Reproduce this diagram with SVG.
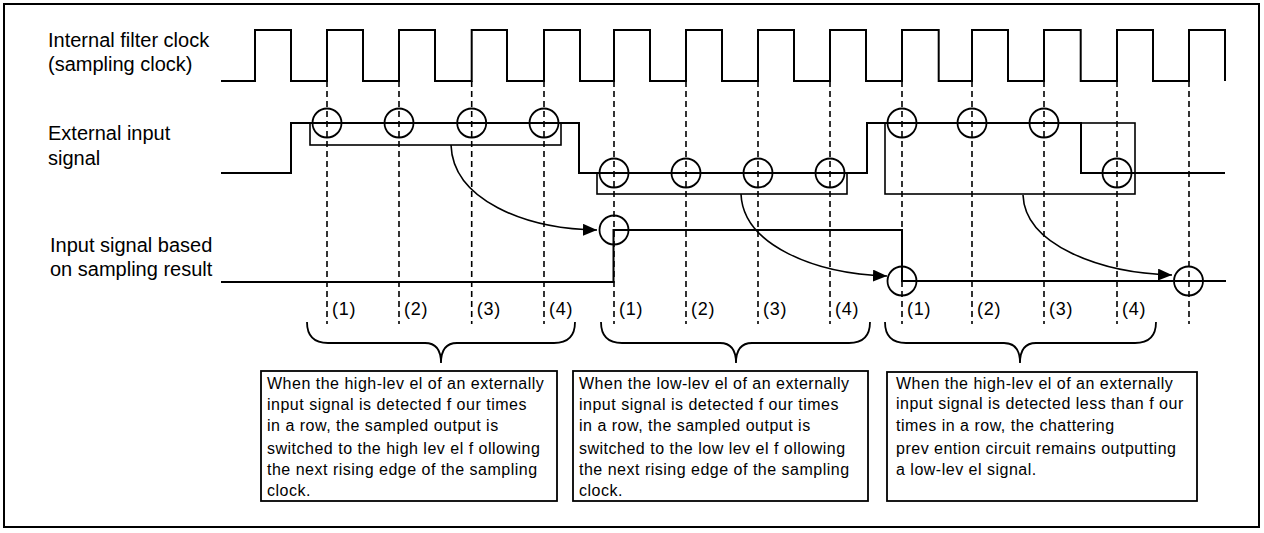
<svg xmlns="http://www.w3.org/2000/svg" width="1264" height="533" viewBox="0 0 1264 533">
<defs>
<marker id="arr" markerUnits="userSpaceOnUse" markerWidth="16" markerHeight="14" refX="14" refY="6" orient="auto">
<path d="M0,0 L14,6 L0,12 Z" fill="#000"/>
</marker>
<style>
.wave{fill:none;stroke:#000;stroke-width:2}
.dash{fill:none;stroke:#000;stroke-width:1.6;stroke-dasharray:6,4}
.circ{fill:none;stroke:#000;stroke-width:1.8}
.box{fill:none;stroke:#000;stroke-width:1.6}
.tbox{fill:#fff;stroke:#000;stroke-width:1.8}
.conn{fill:none;stroke:#000;stroke-width:1.6}
.brace{fill:none;stroke:#000;stroke-width:1.8}
.lbl{font-family:"Liberation Sans",Arial,sans-serif;font-size:20px;fill:#000}
.num{font-family:"Liberation Sans",Arial,sans-serif;font-size:18px;fill:#000;letter-spacing:0.8px}
.txt{font-family:"Liberation Sans",Arial,sans-serif;font-size:16px;fill:#000;letter-spacing:0.5px}
</style>
</defs>
<rect x="4" y="4" width="1255" height="523" fill="#fff" stroke="#000" stroke-width="2"/>

<g id="labels">
<text class="lbl" x="48" y="47">Internal filter clock</text>
<text class="lbl" x="48" y="71">(sampling clock)</text>
<text class="lbl" x="48" y="140">External input</text>
<text class="lbl" x="48" y="165">signal</text>
<text class="lbl" x="50" y="252">Input signal based</text>
<text class="lbl" x="50" y="276">on sampling result</text>
</g>

<g id="clock">
<path class="wave" d="M221,81 H255 V30 H291 V81 H327 V30 H363 V81 H399 V30 H435 V81 H471.7 V30 H507 V81 H544 V30 H580 V81 H614 V30 H650 V81 H686 V30 H722 V81 H758 V30 H794 V81 H830 V30 H866 V81 H902 V30 H938.7 V81 H972 V30 H1008 V81 H1044 V30 H1080.7 V81 H1117 V30 H1153 V81 H1189 V30 H1225 V81"/>
</g>

<g id="input-signal">
<path class="wave" d="M221,173 H291 V123 H579 V173 H867 V123 H1081 V173 H1225"/>
</g>

<g id="output-signal">
<path class="wave" d="M221,282 H613.5 V230 H902 V281 H1226"/>
</g>

<g id="dashes">
<path class="dash" d="M327,81 V324 M399,81 V324 M471.7,81 V324 M544,81 V324 M614,81 V324 M686,81 V324 M758,81 V324 M830,81 V324 M902,81 V324 M972,81 V324 M1044,81 V324 M1117,81 V324 M1189,81 V324"/>
</g>

<g id="sample-circles">
<circle class="circ" cx="327" cy="123" r="14.5"/>
<circle class="circ" cx="399" cy="123" r="14.5"/>
<circle class="circ" cx="471.7" cy="123" r="14.5"/>
<circle class="circ" cx="544" cy="123" r="14.5"/>
<circle class="circ" cx="614" cy="173" r="14.5"/>
<circle class="circ" cx="686" cy="173" r="14.5"/>
<circle class="circ" cx="758" cy="173" r="14.5"/>
<circle class="circ" cx="830" cy="173" r="14.5"/>
<circle class="circ" cx="902" cy="123" r="14.5"/>
<circle class="circ" cx="972" cy="123" r="14.5"/>
<circle class="circ" cx="1044" cy="123" r="14.5"/>
<circle class="circ" cx="1117" cy="173" r="14.5"/>
<circle class="circ" cx="614" cy="230" r="14.5"/>
<circle class="circ" cx="902" cy="281" r="14.5"/>
<circle class="circ" cx="1188.5" cy="281" r="14.5"/>
</g>

<g id="groups">
<rect class="box" x="310" y="123" width="251" height="22"/>
<rect class="box" x="597" y="173" width="250" height="21"/>
<rect class="box" x="885" y="123" width="250" height="71"/>
</g>

<g id="connectors">
<path class="conn" d="M451,145 C453,200 525,229 597,230" marker-end="url(#arr)"/>
<path class="conn" d="M741,194 C743,245 815,274 887,276" marker-end="url(#arr)"/>
<path class="conn" d="M1023,195 C1025,245 1100,273 1172,275" marker-end="url(#arr)"/>
</g>

<g id="numbers">
<text class="num" x="332" y="315">(1)</text>
<text class="num" x="404" y="315">(2)</text>
<text class="num" x="476.7" y="315">(3)</text>
<text class="num" x="549" y="315">(4)</text>
<text class="num" x="619" y="315">(1)</text>
<text class="num" x="691" y="315">(2)</text>
<text class="num" x="763" y="315">(3)</text>
<text class="num" x="835" y="315">(4)</text>
<text class="num" x="907" y="315">(1)</text>
<text class="num" x="977" y="315">(2)</text>
<text class="num" x="1049" y="315">(3)</text>
<text class="num" x="1122" y="315">(4)</text>
</g>

<g id="braces">
<path class="brace" d="M307,322 Q307,343 328,343 L425,343 Q441,343 441,363 Q441,343 457,343 L554,343 Q575,343 575,322"/>
<path class="brace" d="M601,322 Q601,343 622,343 L720,343 Q736,343 736,363 Q736,343 752,343 L849,343 Q870,343 870,322"/>
<path class="brace" d="M885,322 Q885,343 906,343 L1004,343 Q1020,343 1020,363 Q1020,343 1036,343 L1135,343 Q1156,343 1156,322"/>
</g>

<g id="note1">
<rect class="tbox" x="261" y="371" width="296" height="130"/>
<text class="txt" x="267" y="389">When the high-lev el of an externally</text>
<text class="txt" x="267" y="410">input signal is detected f our times</text>
<text class="txt" x="267" y="431">in a row, the sampled output is</text>
<text class="txt" x="267" y="454">switched to the high lev el f ollowing</text>
<text class="txt" x="267" y="475">the next rising edge of the sampling</text>
<text class="txt" x="267" y="496">clock.</text>
</g>

<g id="note2">
<rect class="tbox" x="573" y="371" width="295" height="130"/>
<text class="txt" x="579" y="389">When the low-lev el of an externally</text>
<text class="txt" x="579" y="410">input signal is detected f our times</text>
<text class="txt" x="579" y="431">in a row, the sampled output is</text>
<text class="txt" x="579" y="454">switched to the low lev el f ollowing</text>
<text class="txt" x="579" y="475">the next rising edge of the sampling</text>
<text class="txt" x="579" y="496">clock.</text>
</g>

<g id="note3">
<rect class="tbox" x="887" y="372" width="310" height="129"/>
<text class="txt" x="896" y="389">When the high-lev el of an externally</text>
<text class="txt" x="896" y="409">input signal is detected less than f our</text>
<text class="txt" x="896" y="431">times in a row, the chattering</text>
<text class="txt" x="896" y="454">prev ention circuit remains outputting</text>
<text class="txt" x="896" y="475">a low-lev el signal.</text>
</g>
</svg>
